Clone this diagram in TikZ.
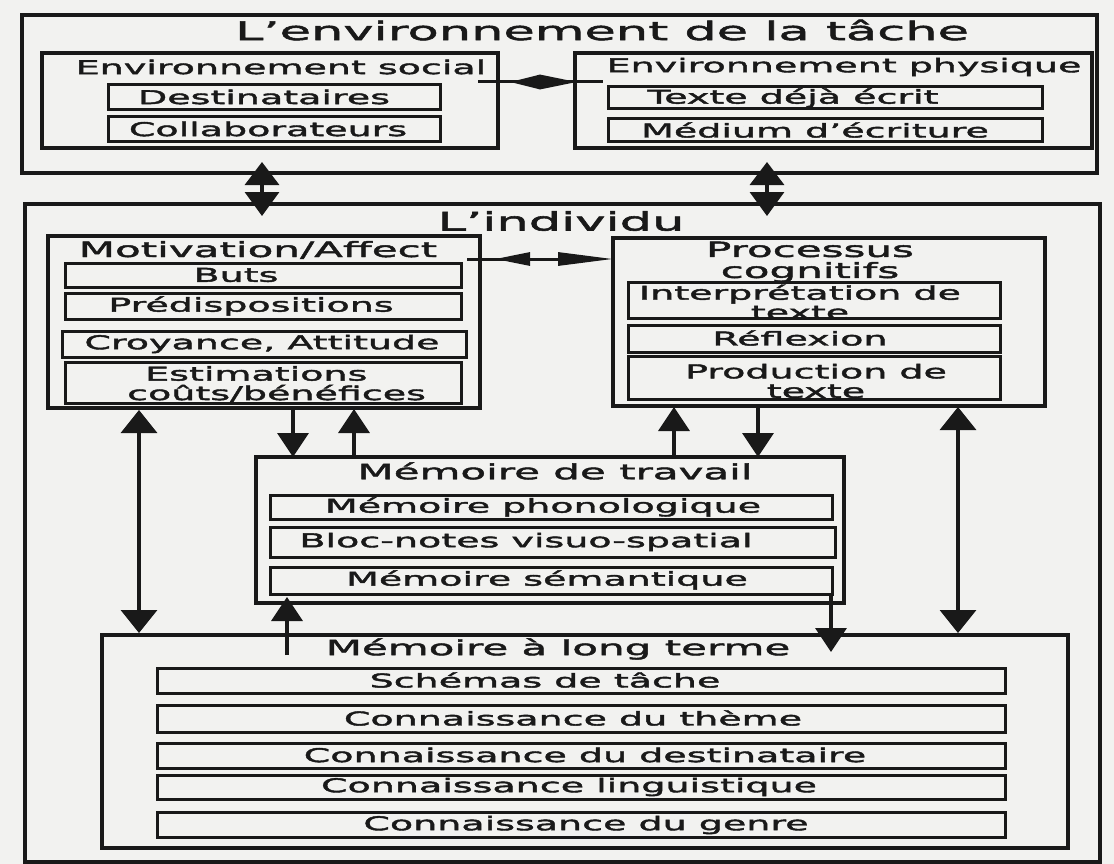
\documentclass[tikz,border=0pt]{standalone}
\usepackage{fontspec}
\setmainfont{DejaVu Sans}[FakeStretch=2.0,FakeBold=2.2]
\usetikzlibrary{arrows.meta,decorations.markings,fit}
\definecolor{paper}{RGB}{242,242,240}
\definecolor{ink}{RGB}{25,25,25}
\newcommand\fBig{\fontsize{25.5}{27}\selectfont}
\newcommand\fSec{\fontsize{21}{21}\selectfont}
\newcommand\fSub{\fontsize{19}{20}\selectfont}
\newcommand\fItem{\fontsize{19}{19.5}\selectfont}
\begin{document}
\begin{tikzpicture}[x=1pt,y=-1pt,
  cont/.style={draw=ink, line width=3.2pt, inner sep=0pt},
  itembox/.style={draw=ink, line width=3pt, inner sep=0pt},
  lbl/.style={inner sep=0pt, text=ink, align=center, font=\fItem},
  dbl/.style={line width=3.4pt, draw=ink, {Triangle[length=23pt,width=34pt]}-{Triangle[length=24pt,width=34pt]}},
  one/.style={line width=3.4pt, draw=ink, -{Triangle[length=24pt,width=31pt]}}]
\fill[paper] (0,0) rectangle (1114,864);
\useasboundingbox (0,0) rectangle (1114,864);

% ---------- L'environnement de la tache ----------
\node[cont, fit={(22,15)(1097,173)}] (env) {};
\node[lbl, font=\fBig] (envt) at (602,30) {L'environnement de la tâche};
\node[cont, fit={(42,53)(498,148)}] (es) {};
\node[lbl, font=\fSub] (est) at (281,67) {Environnement social};
\node[itembox, fit={(108,85)(440,110)}] (dest) {};
\node[lbl] (destt) at (264,97) {Destinataires};
\node[itembox, fit={(108,117)(440,142)}] (coll) {};
\node[lbl] (collt) at (268,129) {Collaborateurs};
\node[cont, fit={(575,53)(1092,148)}] (ep) {};
\node[lbl, font=\fSub] (ept) at (844,67) {Environnement physique};
\node[itembox, fit={(608,87)(1042,109)}] (txt) {};
\node[lbl] (txtt) at (793,98) {Texte déjà écrit};
\node[itembox, fit={(608,119)(1042,142)}] (med) {};
\node[lbl] (medt) at (815,130) {Médium d'écriture};

% ---------- L'individu ----------
\node[cont, fit={(25,204)(1100,862)}] (ind) {};
\node[lbl, font=\fBig] (indt) at (561,221) {L'individu};

\node[cont, fit={(48,236)(480,408)}] (mot) {};
\node[lbl, font=\fSec] (mott) at (258,250) {Motivation/Affect};
\node[itembox, fit={(65,263)(461,287)}] (buts) {};
\node[lbl] (butst) at (236,275) {Buts};
\node[itembox, fit={(65,293)(461,319)}] (pre) {};
\node[lbl] (pret) at (251,306) {Prédispositions};
\node[itembox, fit={(62,331)(466,357)}] (cro) {};
\node[lbl] (crot) at (262,344) {Croyance, Attitude};
\node[itembox, fit={(65,362)(461,403)}] (est2) {};
\node[lbl, anchor=west, align=left] (est2t) at (127,384) {\hspace*{18pt}Estimations\\coûts/bénéfices};

\node[cont, fit={(613,238)(1045,406)}] (proc) {};
\node[lbl, font=\fSec] (proct) at (810,262) {Processus\\cognitifs};
\node[itembox, fit={(628,282)(1000,318)}] (int) {};
\node[lbl] (intt) at (800,302) {Interprétation de\\texte};
\node[itembox, fit={(628,325)(1000,352)}] (ref) {};
\node[lbl] (reft) at (800,338) {Réflexion};
\node[itembox, fit={(628,356)(1000,399)}] (prod) {};
\node[lbl] (prodt) at (816,381) {Production de\\texte};

\node[cont, fit={(256,457)(844,603)}] (mdt) {};
\node[lbl, font=\fSec] (mdtt) at (555,471) {Mémoire de travail};
\node[itembox, fit={(270,495)(832,519)}] (pho) {};
\node[lbl] (phot) at (543,507) {Mémoire phonologique};
\node[itembox, fit={(270,527)(835,557)}] (blo) {};
\node[lbl] (blot) at (526,542) {Bloc-notes visuo-spatial};
\node[itembox, fit={(270,567)(832,594)}] (sem) {};
\node[lbl] (semt) at (547,580) {Mémoire sémantique};

\node[cont, fit={(102,635)(1068,848)}] (mlt) {};
\node[lbl, font=\fSec] (mltt) at (558,649) {Mémoire à long terme};
\node[itembox, fit={(157,668)(1005,693)}] (sch) {};
\node[lbl] (scht) at (545,680) {Schémas de tâche};
\node[itembox, fit={(157,705)(1005,732)}] (the) {};
\node[lbl] (thet) at (573,718) {Connaissance du thème};
\node[itembox, fit={(157,743)(1005,768)}] (des) {};
\node[lbl] (dest2) at (585,755) {Connaissance du destinataire};
\node[itembox, fit={(157,775)(1005,799)}] (lin) {};
\node[lbl] (lint) at (569,787) {Connaissance linguistique};
\node[itembox, fit={(157,812)(1005,837)}] (gen) {};
\node[lbl] (gent) at (586,825) {Connaissance du genre};

% ---------- connectors ----------
\coordinate (h1a) at (478,82);  \coordinate (h1b) at (603,82);
\draw[line width=3pt, draw=ink, postaction={decorate},
  decoration={markings,
    mark=at position 99pt with {\arrow{Triangle[length=37pt,width=14pt]}},
    mark=at position 32pt with {\arrowreversed{Triangle[length=30pt,width=14pt]}}}]
  (h1a) -- (h1b);

\coordinate (h2a) at (467,259); \coordinate (h2b) at (613,259);
\draw[line width=3pt, draw=ink, postaction={decorate},
  decoration={markings,
    mark=at position 28pt with {\arrowreversed{Triangle[length=35pt,width=13pt]}}},
  -{Triangle[length=55pt,width=13pt]}]
  (h2a) -- (h2b);

\coordinate (v1a) at (262,162); \coordinate (v1b) at (262,216);
\draw[dbl] (v1a) -- (v1b);
\coordinate (v2a) at (767,162); \coordinate (v2b) at (767,216);
\draw[dbl] (v2a) -- (v2b);

\coordinate (l1a) at (139,410); \coordinate (l1b) at (139,633);
\draw[line width=3.4pt, draw=ink, {Triangle[length=23pt,width=36pt]}-{Triangle[length=23pt,width=36pt]}] (l1a) -- (l1b);
\coordinate (r1a) at (958,407); \coordinate (r1b) at (958,633);
\draw[line width=3.4pt, draw=ink, {Triangle[length=23pt,width=36pt]}-{Triangle[length=23pt,width=36pt]}] (r1a) -- (r1b);

\coordinate (a2a) at (293,408); \coordinate (a2b) at (293,457);
\draw[one] (a2a) -- (a2b);
\coordinate (a3a) at (354,457); \coordinate (a3b) at (354,409);
\draw[one] (a3a) -- (a3b);
\coordinate (a4a) at (674,457); \coordinate (a4b) at (674,407);
\draw[one] (a4a) -- (a4b);
\coordinate (a5a) at (758,406); \coordinate (a5b) at (758,457);
\draw[one] (a5a) -- (a5b);
\coordinate (a7a) at (287,655); \coordinate (a7b) at (287,597);
\draw[one] (a7a) -- (a7b);
\coordinate (a8a) at (831,595); \coordinate (a8b) at (831,652);
\draw[one] (a8a) -- (a8b);
\end{tikzpicture}
\end{document}
